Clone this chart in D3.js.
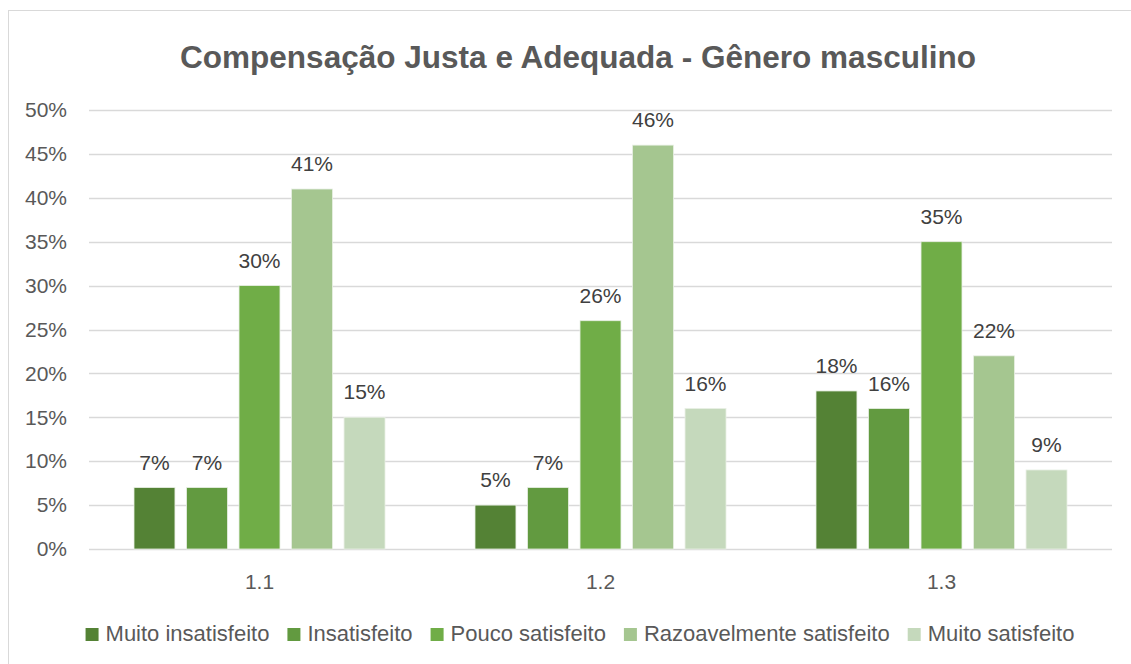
<!DOCTYPE html>
<meta charset="utf-8">
<script src="https://d3js.org/d3.v7.min.js"></script>
<style>
  body { margin: 0; background: #fff; }
  svg { display: block; font-family: "Liberation Sans", Arial, sans-serif; }
</style>
<body>
<div id="chart"></div>
<script>
// data
var categories = ["1.1", "1.2", "1.3"];
var seriesNames = ["Muito insatisfeito", "Insatisfeito", "Pouco satisfeito", "Razoavelmente satisfeito", "Muito satisfeito"];
var muitoInsatisfeito = [7, 5, 18];
var insatisfeito = [7, 7, 16];
var poucoSatisfeito = [30, 26, 35];
var razoavelmente = [41, 46, 22];
var muitoSatisfeito = [15, 16, 9];
var yTicks = [0, 5, 10, 15, 20, 25, 30, 35, 40, 45, 50];
var colors = ["#548235", "#629a40", "#70ad47", "#a5c690", "#c5d9bc"];

var values = [muitoInsatisfeito, insatisfeito, poucoSatisfeito, razoavelmente, muitoSatisfeito];

var width = 1131, height = 664;

var svg = d3.select("#chart").append("svg")
  .attr("width", width)
  .attr("height", height);

// chart frame
svg.append("rect")
  .attr("x", 8.5).attr("y", 10.5)
  .attr("width", 1140).attr("height", 680)
  .attr("fill", "#fff")
  .attr("stroke", "#d9d9d9")
  .attr("stroke-width", 1);

// title
svg.append("text")
  .attr("x", 578).attr("y", 68)
  .attr("text-anchor", "middle")
  .style("font-size", "31px")
  .style("font-weight", "bold")
  .style("fill", "#595959")
  .attr("textLength", 796)
  .attr("lengthAdjust", "spacingAndGlyphs")
  .text("Compensação Justa e Adequada - Gênero masculino");

var x0 = d3.scaleBand()
  .domain(categories)
  .range([89, 1112]);

var x1 = d3.scaleBand()
  .domain(seriesNames)
  .range([45, x0.bandwidth() - 45])
  .paddingInner(0.22);

var y = d3.scaleLinear()
  .domain([0, 50])
  .range([549, 110]);

// gridlines
svg.append("g")
  .selectAll("line")
  .data(yTicks)
  .enter().append("line")
  .attr("x1", 89).attr("x2", 1112)
  .attr("y1", function (d) { return Math.round(y(d)) + 0.5; })
  .attr("y2", function (d) { return Math.round(y(d)) + 0.5; })
  .attr("stroke", "#d9d9d9")
  .attr("stroke-width", 1.5);

// y axis labels
var yAxis = d3.axisLeft(y)
  .tickValues(yTicks)
  .tickFormat(function (d) { return d + "%"; })
  .tickSize(0)
  .tickPadding(22);

svg.append("g")
  .attr("transform", "translate(89,0)")
  .call(yAxis)
  .call(function (g) { g.select(".domain").remove(); })
  .selectAll("text")
  .style("font-size", "21px")
  .style("font-family", "Liberation Sans, Arial, sans-serif")
  .style("fill", "#595959");

// x axis labels
var xAxis = d3.axisBottom(x0).tickSize(0).tickPadding(25);
svg.append("g")
  .attr("transform", "translate(0,549)")
  .call(xAxis)
  .call(function (g) { g.select(".domain").remove(); })
  .selectAll("text")
  .style("font-size", "21px")
  .style("font-family", "Liberation Sans, Arial, sans-serif")
  .style("fill", "#595959");

// bars
var groups = svg.append("g")
  .selectAll("g")
  .data(categories)
  .enter().append("g")
  .attr("transform", function (d) { return "translate(" + x0(d) + ",0)"; });

var cells = groups.selectAll("g")
  .data(function (d, i) {
    return seriesNames.map(function (s, j) { return { series: s, value: values[j][i], idx: j }; });
  })
  .enter().append("g");

cells.append("rect")
  .attr("x", function (d) { return x1(d.series); })
  .attr("y", function (d) { return y(d.value); })
  .attr("width", x1.bandwidth())
  .attr("height", function (d) { return y(0) - y(d.value); })
  .attr("fill", function (d) { return colors[d.idx]; })
  .attr("stroke", "#e8efe4")
  .attr("stroke-width", 0.8);

cells.append("text")
  .attr("x", function (d) { return x1(d.series) + x1.bandwidth() / 2; })
  .attr("y", function (d) { return y(d.value) - 18; })
  .attr("text-anchor", "middle")
  .style("font-size", "21px")
  .style("fill", "#404040")
  .text(function (d) { return d.value + "%"; });

// legend
var legend = svg.append("g").attr("transform", "translate(0,641)");
var lx = 0;
var items = legend.selectAll("g")
  .data(seriesNames)
  .enter().append("g");

items.append("rect")
  .attr("y", -13).attr("width", 13).attr("height", 13)
  .attr("fill", function (d, i) { return colors[i]; });

items.append("text")
  .attr("x", 20).attr("y", 0)
  .style("font-size", "22px")
  .style("fill", "#595959")
  .text(function (d) { return d; });

items.each(function () {
  var g = d3.select(this);
  g.attr("transform", "translate(" + lx + ",0)");
  lx += 20 + g.select("text").node().getComputedTextLength() + 18;
});
var total = lx - 18;
legend.attr("transform", "translate(" + (580 - total / 2) + ",641)");
</script>
</body>
